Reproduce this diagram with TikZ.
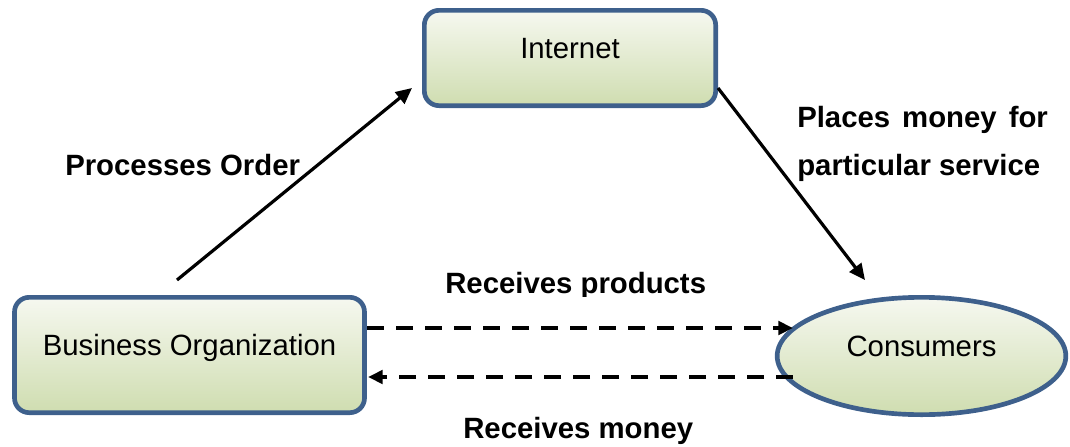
\documentclass[tikz,border=0pt]{standalone}
\usepackage{fontspec}
\setmainfont{Liberation Sans}
\usetikzlibrary{arrows.meta,shapes.geometric}
\definecolor{bordblue}{RGB}{62,96,140}
\definecolor{filltop}{RGB}{246,248,240}
\definecolor{fillbot}{RGB}{207,221,176}
\begin{document}
\begin{tikzpicture}[x=0.75pt,y=-0.75pt,
  shapebase/.style={draw=bordblue, line width=3.5pt, top color=filltop, bottom color=fillbot,
    text height=8pt, text depth=8pt, inner sep=0pt, font=\fontsize{22}{26}\selectfont},
  box/.style={shapebase, rectangle, rounded corners=11pt},
  ell/.style={shapebase, ellipse},
  lab/.style={font=\fontsize{22}{26}\selectfont\bfseries, anchor=base west, inner sep=0pt},
  solidarr/.style={line width=2.4pt, -{Triangle[length=12pt,width=11pt]}},
  dasharr/.style={line width=3pt, dash pattern=on 12.75pt off 9pt, -{Triangle[length=11pt,width=10pt]}}
]
\useasboundingbox (0,0) rectangle (1070,446);

% nodes
\node[box, minimum width=218.5pt, minimum height=71.5pt] (net) at (570,58) {Internet};
\node[box, minimum width=262.5pt, minimum height=86.5pt] (biz) at (189.5,355) {Business Organization};
\node[ell, minimum width=216.5pt, minimum height=88pt] (cons) at (921.5,356) {Consumers};

% connector end points
\coordinate (poS) at (177,280);
\coordinate (poE) at (412,88);
\coordinate (pmS) at (718,88);
\coordinate (pmE) at (865,280);
\coordinate (rpS) at (367,328);
\coordinate (rpE) at (793,328);
\coordinate (rmS) at (793,377);
\coordinate (rmE) at (368,377);

% connectors
\draw[solidarr] (poS) -- (poE);
\draw[solidarr] (pmS) -- (pmE);
\draw[dasharr] (rpS) -- (rpE);
\draw[dasharr] (rmS) -- (rmE);

% labels
\node[lab] (po) at (65,175) {Processes Order};
\node[lab] (pm1) at (797,127) {\makebox[188pt][s]{Places money for}};
\node[lab] (pm2) at (797,175) {particular service};
\begin{scope}
  \clip (400,250) rectangle (760,296);
  \node[lab] (rp) at (445,293) {Receives products};
\end{scope}
\node[lab] (rm) at (463,438) {Receives money};
\end{tikzpicture}
\end{document}
